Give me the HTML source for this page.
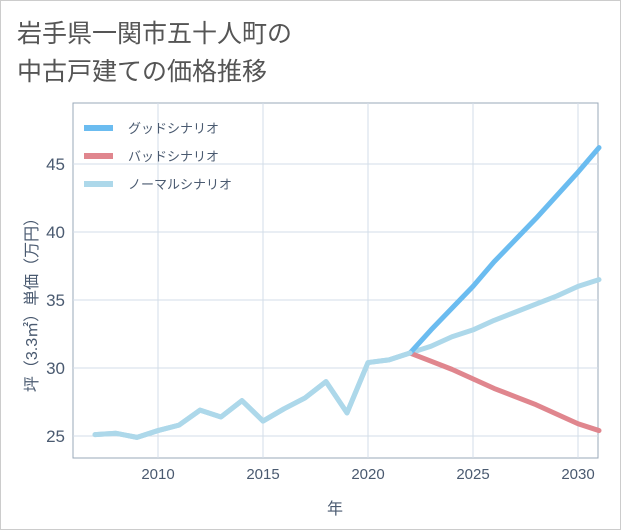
<!DOCTYPE html>
<html><head><meta charset="utf-8"><style>
body{margin:0;background:#fff;}
#wrap{width:619px;height:528px;border:1px solid #ccc;position:relative;font-family:"Liberation Sans","Noto Sans CJK JP",sans-serif;}
#title{position:absolute;left:16px;top:14px;font-size:25px;line-height:38px;color:#555;}
svg{position:absolute;left:0;top:0;}
</style></head><body>
<div id="wrap">
<div id="title">岩手県一関市五十人町の<br>中古戸建ての価格推移</div>
<svg id="c" width="621" height="530"></svg>
</div>
<script>
const years=[2007,2008,2009,2010,2011,2012,2013,2014,2015,2016,2017,2018,2019,2020,2021,2022,2023,2024,2025,2026,2027,2028,2029,2030,2031];
const normal=[25.1,25.2,24.9,25.4,25.8,26.9,26.4,27.6,26.1,27.0,27.8,29.0,26.7,30.4,30.6,31.1,31.6,32.3,32.8,33.5,34.1,34.7,35.3,36.0,36.5];
const futureYears=[2022,2023,2024,2025,2026,2027,2028,2029,2030,2031];
const good=[31.1,32.8,34.4,36.0,37.8,39.4,41.0,42.7,44.4,46.2];
const bad=[31.1,30.5,29.9,29.2,28.5,27.9,27.3,26.6,25.9,25.4];
const xTicks=[2010,2015,2020,2025,2030];
const yTicks=[25,30,35,40,45];
const L=72,R=597,T=102,B=457;
const x=v=>157+(v-2010)*21;
const y=v=>435-(v-25)*13.6;
const s=document.getElementById('c');const NS='http://www.w3.org/2000/svg';
function el(t,a,p){const e=document.createElementNS(NS,t);for(const k in a)e.setAttribute(k,a[k]);(p||s).appendChild(e);return e;}
const bg=el('rect',{x:L,y:T,width:R-L,height:B-T,fill:'#fff',stroke:'#9aa8b8','stroke-width':1});

xTicks.forEach(t=>{const g=el('line',{x1:x(t),x2:x(t),y1:T,y2:B,stroke:'#d3dde8'});
const tx=el('text',{x:x(t),y:B+21,'text-anchor':'middle','font-size':15,fill:'#4a5a70'});tx.textContent=t;});
yTicks.forEach(t=>{const g=el('line',{x1:L,x2:R,y1:y(t),y2:y(t),stroke:'#d3dde8'});
const tx=el('text',{x:L-8,y:y(t)+6,'text-anchor':'end','font-size':17,fill:'#4a5a70'});tx.textContent=t;});
function line(xs,ys,c,n){const p=el('polyline',{points:xs.map((v,i)=>x(v)+','+y(ys[i])).join(' '),fill:'none',stroke:c,'stroke-width':5,'stroke-linejoin':'round','stroke-linecap':'round'});}
line(years,normal,'#add8ea','normal-line');
line(futureYears,bad,'#e0868e','bad-line');
line(futureYears,good,'#6bbcf0','good-line');
line(years.slice(0,16),normal.slice(0,16),'#add8ea','normal-history-line');
const lg=[['グッドシナリオ','#6bbcf0'],['バッドシナリオ','#e0868e'],['ノーマルシナリオ','#add8ea']];
lg.forEach((d,i)=>{const yy=127+i*28;const r=el('line',{x1:83,x2:112,y1:yy,y2:yy,stroke:d[1],'stroke-width':6});
const t=el('text',{x:127,y:yy+5,'font-size':13,fill:'#4a5a70'});t.textContent=d[0];});
const xt=el('text',{x:334,y:513,'text-anchor':'middle','font-size':16,fill:'#4a5a70'});xt.textContent='年';
const yt=el('text',{x:0,y:0,'text-anchor':'middle','font-size':16,fill:'#4a5a70',transform:'translate(36,300) rotate(-90)'});yt.textContent='坪（3.3㎡）単価（万円）';
</script>
</body></html>
